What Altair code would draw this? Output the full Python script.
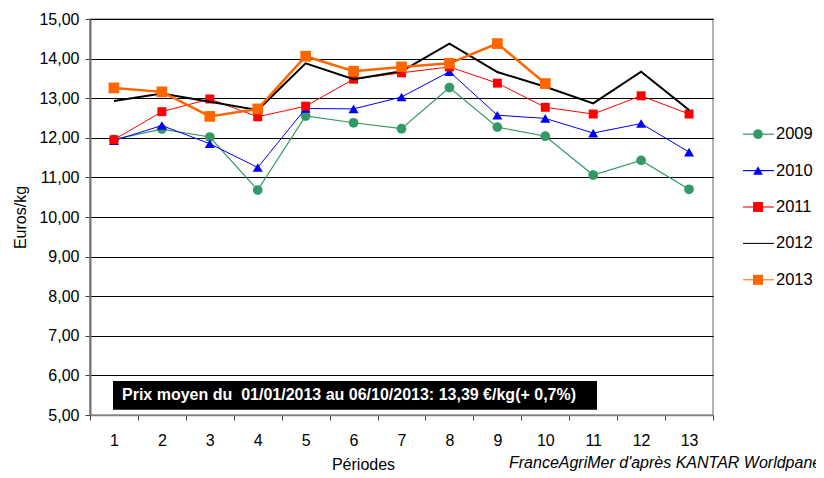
import altair as alt
import pandas as pd

periods = list(range(1, 14))
years = ["2009", "2010", "2011", "2012", "2013"]
v2009 = [11.96, 12.22, 12.02, 10.68, 12.55, 12.38, 12.23, 13.27, 12.27, 12.04, 11.06, 11.43, 10.70]
v2010 = [11.93, 12.31, 11.85, 11.25, 12.74, 12.73, 13.03, 13.67, 12.57, 12.49, 12.12, 12.36, 11.64]
v2011 = [11.95, 12.66, 12.98, 12.53, 12.80, 13.48, 13.64, 13.79, 13.38, 12.77, 12.60, 13.06, 12.60]
v2012 = [12.93, 13.12, 12.91, 12.70, 13.88, 13.48, 13.68, 14.38, 13.66, 13.29, 12.87, 13.67, 12.70]
v2013 = [13.26, 13.16, 12.54, 12.73, 14.06, 13.68, 13.79, 13.88, 14.38, 13.37]
series = {"2009": v2009, "2010": v2010, "2011": v2011, "2012": v2012, "2013": v2013}

colors = ["#339966", "#0000FF", "#FF0000", "#000000", "#FF6600"]
widths = [1.2, 1, 1, 2, 2.5]
shapes = ["circle", "triangle-up", "square", None, "square"]
sizes = [95, 100, 80, 0, 115]

y_ticks = [5, 6, 7, 8, 9, 10, 11, 12, 13, 14, 15]
note_text = "Prix moyen du \u00a001/01/2013 au 06/10/2013: 13,39 €/kg(+ 0,7%)"
source_text = "FranceAgriMer d'après KANTAR Worldpanel"

rows = []
for yr in years:
    for p, v in zip(periods, series[yr]):
        rows.append({"period": p, "year": yr, "value": v})
df = pd.DataFrame(rows)

FONT = "Liberation Sans"

x_enc = alt.X(
    "period:O",
    scale=alt.Scale(type="band", domain=periods, paddingInner=0, paddingOuter=0),
    bandPosition=0.5,
    axis=alt.Axis(
        title="Périodes", labelAngle=0, tickBand="extent", tickSize=5,
        labelPadding=12, labelFontSize=16, labelFont=FONT, labelColor="#000",
        titleFont=FONT, titleFontSize=16, titleFontWeight="normal", titleColor="#000",
        titleX=273, titleY=41, titleBaseline="top", titleAnchor="start", titleAlign="center",
        domainColor="#808080", domainWidth=1.5, tickColor="#404040", grid=False,
    ),
)
y_scale = alt.Scale(domain=[5, 15], nice=False, zero=False)
y_axis = alt.Axis(
    values=y_ticks, labelExpr="replace(format(datum.value, '.2f'), '.', ',')",
    labelFontSize=16, labelFont=FONT, labelColor="#000", tickSize=5, labelPadding=6,
    tickColor="#404040", domainColor="#707070", domainWidth=2,
    grid=True, gridColor="#000000", gridWidth=1,
    title="Euros/kg", titleFont=FONT, titleFontSize=16, titleFontWeight="normal",
    titleColor="#000", titleX=-70, titleY=198, titleAngle=-90,
    titleAlign="center", titleBaseline="middle",
)


def yq(field):
    return alt.Y(field, scale=y_scale, axis=y_axis)


base = alt.Chart(df)
main_layers = []
for yr, c, w, sh, sz in zip(years, colors, widths, shapes, sizes):
    sub = base.transform_filter(alt.datum.year == yr)
    main_layers.append(sub.mark_line(color=c, strokeWidth=w).encode(x=x_enc, y=yq("value:Q")))
    if sh is not None:
        main_layers.append(
            sub.mark_point(shape=sh, size=sz, filled=True, color=c, opacity=1).encode(
                x=x_enc, y=yq("value:Q")
            )
        )

note_df = pd.DataFrame({"y1": [5.86], "y2": [5.13], "ym": [5.50], "t": [note_text]})
note_rect = alt.Chart(note_df).mark_rect(color="#000000").encode(
    x=alt.value(23), x2=alt.value(507),
    y=yq("y1:Q"), y2="y2:Q",
)
note_label = alt.Chart(note_df).mark_text(
    align="left", baseline="middle", color="#ffffff", font=FONT, fontSize=16, fontWeight="bold"
).encode(x=alt.value(32), y=yq("ym:Q"), text="t:N")

src_df = pd.DataFrame({"t": [source_text]})
src = alt.Chart(src_df).mark_text(
    align="left", baseline="middle", font=FONT, fontSize=16, fontStyle="italic", color="#000"
).encode(x=alt.value(419), y=alt.value(444), text="t:N")

main = alt.layer(*main_layers, note_rect, note_label, src)

leg_df = pd.DataFrame({"year": years})
leg_y = alt.Y("year:N", scale=alt.Scale(type="point", domain=years, range=[97, 279]), axis=None)
leg_rule = alt.Chart(leg_df).mark_rule().encode(
    x=alt.value(653), x2=alt.value(684), y=leg_y,
    color=alt.Color("year:N", scale=alt.Scale(domain=years, range=colors), legend=None),
    strokeWidth=alt.StrokeWidth("year:N", scale=alt.Scale(domain=years, range=widths), legend=None),
)
leg_pts = alt.Chart(leg_df).transform_filter(alt.datum.year != "2012").mark_point(
    filled=True, opacity=1
).encode(
    x=alt.value(668), y=leg_y,
    color=alt.Color("year:N", scale=alt.Scale(domain=years, range=colors), legend=None),
    shape=alt.Shape("year:N", scale=alt.Scale(domain=["2009", "2010", "2011", "2013"],
                                              range=["circle", "triangle-up", "square", "square"]), legend=None),
    size=alt.Size("year:N", scale=alt.Scale(domain=["2009", "2010", "2011", "2013"],
                                            range=[95, 100, 80, 115]), legend=None),
)
leg_txt = alt.Chart(leg_df).mark_text(
    align="left", baseline="middle", font=FONT, fontSize=16.5, color="#000"
).encode(x=alt.value(686), y=leg_y, text="year:N")

legend = alt.layer(leg_rule, leg_pts, leg_txt)

chart = alt.layer(main, legend).resolve_scale(y="independent").properties(
    width=623, height=396,
    autosize=alt.AutoSizeParams(type="none"),
    padding={"left": 82, "top": 11, "right": 103, "bottom": 58},
    background="#ffffff",
).configure_view(stroke="#999999", strokeWidth=1.5)

chart.save("out.html", embed_options={"renderer": "svg", "actions": False})
